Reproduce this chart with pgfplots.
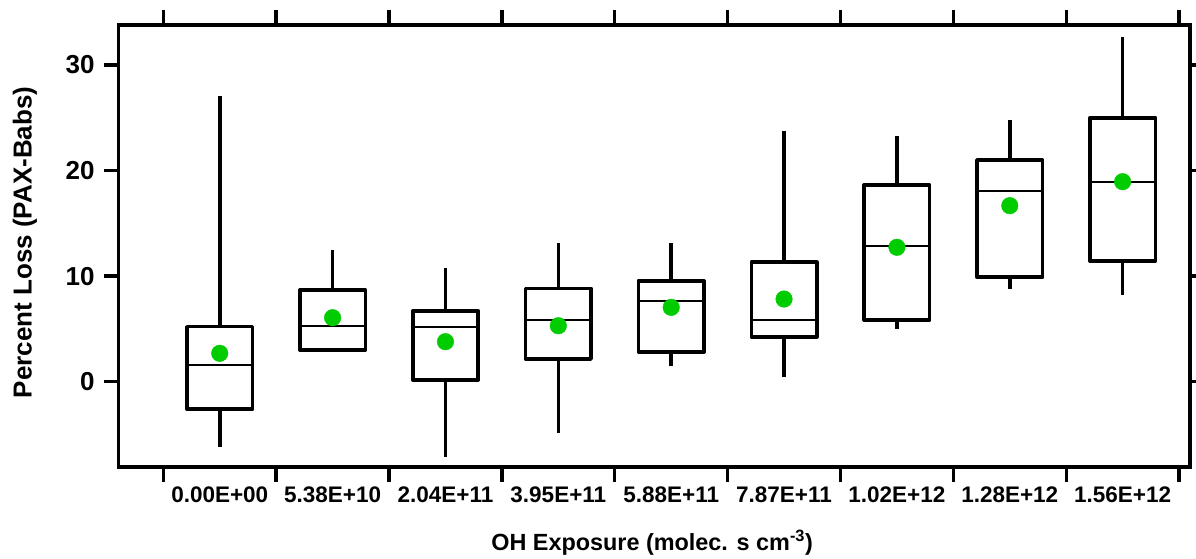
\documentclass[border=0pt]{standalone}
\usepackage{fontspec}
\setmainfont{Liberation Sans}
\usepackage{pgfplots}
\pgfplotsset{compat=1.18}
\usepgfplotslibrary{statistics}
\definecolor{meangreen}{RGB}{0,204,0}
\newcommand{\bigfont}{\fontsize{22.5}{27}\selectfont\bfseries}
\newcommand{\yfont}{\fontsize{26}{30}\selectfont\bfseries}
\begin{document}
\begin{tikzpicture}
\begin{axis}[
  name=ax, at={(0,0)}, anchor=south west,
  scale only axis, width=1071.5pt, height=442pt,
  xmin=-0.897, xmax=8.597, ymin=-8.08, ymax=33.78,
  axis line style={line width=3.4pt, line cap=rect},
  tick style={line width=3.4pt, black},
  major tick length=14.5pt,
  tick align=outside,
  xtick pos=both, ytick pos=both,
  xticklabel pos=bottom, yticklabel pos=left,
  xtick={-0.5,0.5,...,8.5},
  xticklabels={0.00E+00,5.38E+10,2.04E+11,3.95E+11,5.88E+11,7.87E+11,1.02E+12,1.28E+12,1.56E+12,{}},
  ytick={0,10,20,30},
  /pgf/number format/assume math mode=true,
  xticklabel style={font=\bigfont, xshift=56.43pt, yshift=-2pt},
  yticklabel style={font=\yfont, xshift=-6pt},
  xlabel={OH Exposure (molec. s cm\textsuperscript{-3})},
  ylabel={Percent Loss (PAX-Babs)},
  xlabel style={font=\fontsize{23.4}{28}\selectfont\bfseries, at={(axis description cs:0.498,-0.1878)}, anchor=base},
  ylabel style={font=\yfont, at={(axis description cs:-0.0873,0.508)}, anchor=center},
  every axis plot/.append style={line join=round},
  boxplot/draw direction=y,
]
\addplot[black, line width=3.6pt, boxplot prepared={draw position=0, lower whisker=-6.16, lower quartile=-2.61, median=1.61, upper quartile=5.21, upper whisker=27.08, box extend=0.58, whisker extend=0, every median/.style={line width=1.8pt}}] coordinates {};
\addplot[black, line width=3.6pt, boxplot prepared={draw position=1, lower whisker=3.00, lower quartile=3.00, median=5.27, upper quartile=8.68, upper whisker=12.47, box extend=0.58, whisker extend=0, every median/.style={line width=1.8pt}}] coordinates {};
\addplot[black, line width=3.6pt, boxplot prepared={draw position=2, lower whisker=-7.16, lower quartile=0.16, median=5.21, upper quartile=6.72, upper whisker=10.74, box extend=0.58, whisker extend=0, every median/.style={line width=1.8pt}}] coordinates {};
\addplot[black, line width=3.6pt, boxplot prepared={draw position=3, lower whisker=-4.83, lower quartile=2.15, median=5.81, upper quartile=8.84, upper whisker=13.11, box extend=0.58, whisker extend=0, every median/.style={line width=1.8pt}}] coordinates {};
\addplot[black, line width=3.6pt, boxplot prepared={draw position=4, lower whisker=1.49, lower quartile=2.81, median=7.64, upper quartile=9.56, upper whisker=13.11, box extend=0.58, whisker extend=0, every median/.style={line width=1.8pt}}] coordinates {};
\addplot[black, line width=3.6pt, boxplot prepared={draw position=5, lower whisker=0.47, lower quartile=4.26, median=5.87, upper quartile=11.31, upper whisker=23.77, box extend=0.58, whisker extend=0, every median/.style={line width=1.8pt}}] coordinates {};
\addplot[black, line width=3.6pt, boxplot prepared={draw position=6, lower whisker=4.96, lower quartile=5.84, median=12.85, upper quartile=18.63, upper whisker=23.27, box extend=0.58, whisker extend=0, every median/.style={line width=1.8pt}}] coordinates {};
\addplot[black, line width=3.6pt, boxplot prepared={draw position=7, lower whisker=8.78, lower quartile=9.89, median=18.06, upper quartile=20.99, upper whisker=24.78, box extend=0.58, whisker extend=0, every median/.style={line width=1.8pt}}] coordinates {};
\addplot[black, line width=3.6pt, boxplot prepared={draw position=8, lower whisker=8.21, lower quartile=11.43, median=18.91, upper quartile=25.00, upper whisker=32.61, box extend=0.58, whisker extend=0, every median/.style={line width=1.8pt}}] coordinates {};
\addplot[only marks, mark=*, mark size=8.3pt, color=meangreen, mark options={fill=meangreen, draw=none}] coordinates {
(0,2.69) (1,6.06) (2,3.79) (3,5.30) (4,7.04) (5,7.83) (6,12.73) (7,16.67) (8,18.94)};
\end{axis}
\pgfresetboundingbox
\path ([shift={(-118.5pt,-91pt)}]ax.south west) rectangle ([shift={(6pt,25pt)}]ax.north east);
\end{tikzpicture}
\end{document}
